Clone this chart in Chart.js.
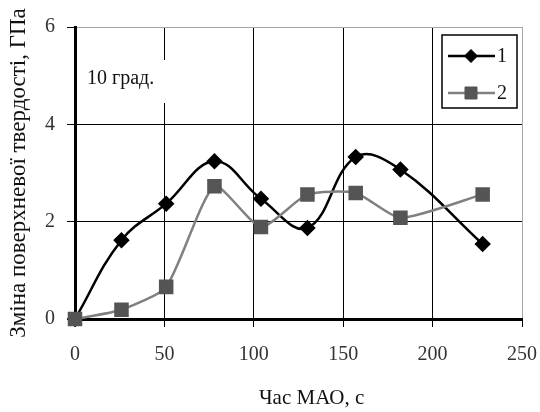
<!DOCTYPE html>
<html>
<head>
<meta charset="utf-8">
<script src="https://cdn.jsdelivr.net/npm/chart.js@4"></script>
<style>
  html, body { margin: 0; padding: 0; background: #fff; }
  #wrap { width: 540px; height: 412px; }
</style>
</head>
<body>
<div id="wrap"><canvas id="chart" width="540" height="412"></canvas></div>
<script>
// data
const times = [0, 26, 51, 78, 104, 130, 157, 182, 228];
const series1 = [0, 1.62, 2.37, 3.24, 2.47, 1.87, 3.33, 3.07, 1.54];
const series2 = [0, 0.19, 0.66, 2.73, 1.89, 2.56, 2.59, 2.08, 2.56];
const seriesNames = ["1", "2"];
const xTicks = [0, 50, 100, 150, 200, 250];
const yTicks = [0, 2, 4, 6];

const serif = "'Liberation Serif', 'DejaVu Serif', serif";

function toPoints(ys) {
    return times.map((t, i) => ({ x: t, y: ys[i] }));
}

// "10 град." note on a white patch
const notePlugin = {
    id: "note",
    beforeDatasetsDraw(chart) {
        const ctx = chart.ctx;
        ctx.save();
        ctx.fillStyle = "#fff";
        ctx.fillRect(80, 60, 90, 43);
        ctx.fillStyle = "#111";
        ctx.font = "20px " + serif;
        ctx.textBaseline = "middle";
        ctx.fillText("10 град.", 87, 79);
        ctx.restore();
    }
};

// boxed legend with line + marker samples, top right of plot
const boxLegend = {
    id: "boxLegend",
    afterDraw(chart) {
        const ctx = chart.ctx;
        const rows = [56, 93];
        ctx.save();
        ctx.fillStyle = "#fff";
        ctx.fillRect(442, 35, 75, 73);
        ctx.strokeStyle = "#000";
        ctx.lineWidth = 1.5;
        ctx.strokeRect(442, 35, 75, 73);
        chart.data.datasets.forEach((ds, i) => {
            const y = rows[i];
            ctx.strokeStyle = ds.borderColor;
            ctx.lineWidth = ds.borderWidth;
            ctx.beginPath();
            ctx.moveTo(448, y);
            ctx.lineTo(495, y);
            ctx.stroke();
            ctx.fillStyle = ds.pointBackgroundColor;
            ctx.strokeStyle = ds.pointBorderColor;
            ctx.lineWidth = 1;
            Chart.helpers.drawPoint(ctx, {
                pointStyle: ds.pointStyle,
                radius: ds.pointRadius,
                borderWidth: 1,
                rotation: 0
            }, 471, y);
            ctx.fillStyle = "#111";
            ctx.font = "20px " + serif;
            ctx.textBaseline = "middle";
            ctx.fillText(seriesNames[i], 497, y + 1);
        });
        ctx.restore();
    }
};

new Chart(document.getElementById("chart"), {
    type: "scatter",
    data: {
        datasets: [{
            label: seriesNames[0],
            data: toPoints(series1),
            showLine: true,
            tension: 0.4,
            borderColor: "#000",
            borderWidth: 2.5,
            pointStyle: "rectRot",
            pointRadius: 6.5,
            pointBackgroundColor: "#000",
            pointBorderColor: "#000",
            clip: false,
            order: 2
        }, {
            label: seriesNames[1],
            data: toPoints(series2),
            showLine: true,
            tension: 0.2,
            borderColor: "#808080",
            borderWidth: 2.5,
            pointStyle: "rect",
            pointRadius: 8.5,
            pointBackgroundColor: "#555",
            pointBorderColor: "#555",
            clip: false,
            order: 1
        }]
    },
    options: {
        responsive: false,
        devicePixelRatio: 1,
        animation: false,
        layout: { padding: { top: 27, right: 18, left: 0, bottom: 0 } },
        plugins: {
            legend: { display: false },
            tooltip: { enabled: false }
        },
        scales: {
            x: {
                type: "linear",
                min: xTicks[0],
                max: xTicks[xTicks.length - 1],
                afterFit(scale) {
                    scale.height = 93;
                    scale.paddingLeft = 0;
                    scale.paddingRight = 0;
                },
                afterBuildTicks(scale) { scale.ticks = xTicks.map(v => ({ value: v })); },
                ticks: {
                    autoSkip: false,
                    maxRotation: 0,
                    padding: 16,
                    color: "#333",
                    font: { family: serif, size: 20 }
                },
                grid: {
                    color: c => (c.tick && c.tick.value === 250 ? "#a8a8a8" : "#000"),
                    tickColor: "#000",
                    tickLength: 8,
                    lineWidth: 1
                },
                border: { color: "#000", width: 3 },
                title: {
                    display: true,
                    text: "     Час МАО, с",
                    color: "#111",
                    font: { family: serif, size: 21 },
                    padding: { top: 0, bottom: 1 }
                }
            },
            y: {
                min: yTicks[0],
                max: yTicks[yTicks.length - 1],
                afterFit(scale) {
                    scale.width = 75;
                    scale.paddingTop = 0;
                    scale.paddingBottom = 0;
                },
                afterBuildTicks(scale) { scale.ticks = yTicks.map(v => ({ value: v })); },
                ticks: {
                    autoSkip: false,
                    padding: 12,
                    color: "#333",
                    font: { family: serif, size: 20 }
                },
                grid: {
                    color: c => (c.tick && c.tick.value === 6 ? "#a8a8a8" : "#000"),
                    tickColor: "#000",
                    tickLength: 8,
                    lineWidth: 1
                },
                border: { color: "#000", width: 3 },
                title: {
                    display: true,
                    text: "Зміна поверхневої твердості, ГПа",
                    color: "#111",
                    font: { family: serif, size: 23 },
                    padding: { top: 5, bottom: 0 }
                }
            }
        }
    },
    plugins: [notePlugin, boxLegend]
});
</script>
</body>
</html>
